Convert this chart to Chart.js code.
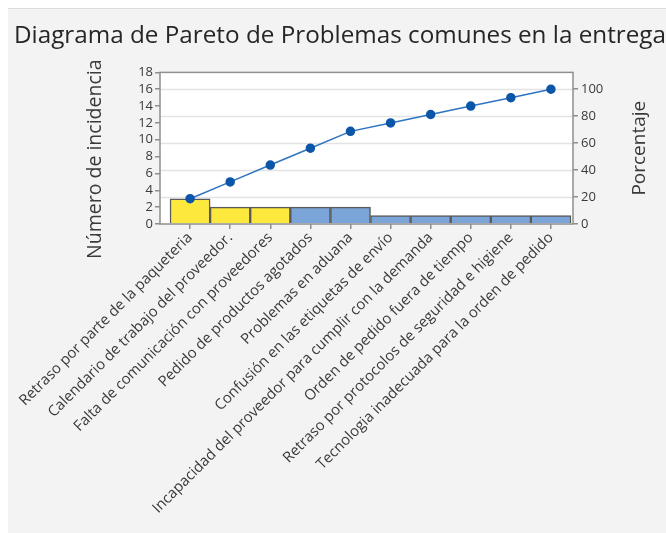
<!DOCTYPE html>
<html>
<head>
<meta charset="utf-8">
<script src="https://cdn.jsdelivr.net/npm/chart.js@4"></script>
<style>
  html, body { margin: 0; padding: 0; background: #ffffff; }
  #panel {
    position: absolute; left: 8px; top: 8px; width: 658px; height: 525px;
    background: #f3f3f3; border-top: 1px solid #dcdcdc; box-sizing: border-box;
  }
  #wrap { position: absolute; left: 0; top: 0; width: 658px; height: 524px; }
</style>
</head>
<body>
<div id="panel"><div id="wrap"><canvas id="c"></canvas></div></div>
<script>
// Problemas comunes en la entrega, ordenados por frecuencia
const categories = [
  "Retraso por parte de la paqueteria",
  "Calendario de trabajo del proveedor.",
  "Falta de comunicación con proveedores",
  "Pedido de productos agotados",
  "Problemas en aduana",
  "Confusión en las etiquetas de envío",
  "Incapacidad del proveedor para cumplir con la demanda",
  "Orden de pedido fuera de tiempo",
  "Retraso por protocolos de seguridad e higiene",
  "Tecnologia inadecuada para la orden de pedido"
];
const counts = [3, 2, 2, 2, 2, 1, 1, 1, 1, 1];
const cumulativePct = [18.75, 31.25, 43.75, 56.25, 68.75, 75, 81.25, 87.5, 93.75, 100];
const countTicks = [0, 2, 4, 6, 8, 10, 12, 14, 16, 18];
const pctTicks = [0, 20, 40, 60, 80, 100];
const barColors = ["#fde93e", "#fde93e", "#fde93e", "#7ba4d8", "#7ba4d8",
                   "#7ba4d8", "#7ba4d8", "#7ba4d8", "#7ba4d8", "#7ba4d8"];

const total = counts.reduce((a, b) => a + b, 0);
const countMax = 18;
const pctMax = countMax / total * 100;

const textColor = "#3a3a3a";
const fontFamily = "'Open Sans', 'Noto Sans', sans-serif";

// White plotting area, horizontal grid, frame and axis titles
const framePlugin = {
  id: "frame",
  beforeDraw(chart) {
    const { ctx, chartArea: a } = chart;
    ctx.save();
    ctx.fillStyle = "#ffffff";
    ctx.fillRect(a.left, a.top, a.right - a.left, a.bottom - a.top);
    const yr = chart.scales.yPct;
    ctx.strokeStyle = "#e3e3e3";
    ctx.lineWidth = 1.5;
    pctTicks.forEach(v => {
      if (v === 0) return;
      const y = Math.round(yr.getPixelForValue(v)) + 0.5;
      ctx.beginPath(); ctx.moveTo(a.left, y); ctx.lineTo(a.right, y); ctx.stroke();
    });
    ctx.restore();
  },
  afterDraw(chart) {
    const { ctx, chartArea: a } = chart;
    ctx.save();
    ctx.strokeStyle = "#8f8f8f";
    ctx.lineWidth = 1.5;
    ctx.strokeRect(a.left, a.top, a.right - a.left, a.bottom - a.top);

    // axis titles, both reading bottom to top
    ctx.fillStyle = "#3a3a3a";
    ctx.textAlign = "center";
    ctx.textBaseline = "middle";
    const midY = (a.top + a.bottom) / 2;
    ctx.font = "19.5px " + fontFamily;
    ctx.save();
    ctx.translate(87, midY + 11);
    ctx.rotate(-Math.PI / 2);
    ctx.fillText("Número de incidencia", 0, 0);
    ctx.restore();
    ctx.font = "19px " + fontFamily;
    ctx.save();
    ctx.translate(632, midY);
    ctx.rotate(-Math.PI / 2);
    ctx.fillText("Porcentaje", 0, 0);
    ctx.restore();
    ctx.restore();
  }
};

new Chart(document.getElementById("c"), {
  data: {
    datasets: [
      {
        type: "line",
        data: cumulativePct.map((v, i) => ({ x: i, y: v })),
        yAxisID: "yPct",
        borderColor: "#2f74c0",
        borderWidth: 1.5,
        pointBackgroundColor: "#0b56a8",
        pointBorderColor: "#0b56a8",
        pointRadius: 4,
        tension: 0,
        order: 0
      },
      {
        type: "bar",
        data: counts.map((v, i) => ({ x: i, y: v })),
        yAxisID: "yCount",
        backgroundColor: barColors,
        borderColor: "#5a5a5a",
        borderWidth: 1.5,
        barPercentage: 1,
        categoryPercentage: 1,
        order: 1
      }
    ]
  },
  options: {
    responsive: true,
    maintainAspectRatio: false,
    animation: false,
    layout: { padding: { left: 6, right: 0, top: 0, bottom: 0 } },
    plugins: {
      legend: { display: false },
      tooltip: { enabled: false },
      title: {
        display: true,
        text: "Diagrama de Pareto de Problemas comunes en la entrega",
        align: "start",
        color: "#262626",
        font: { family: fontFamily, size: 24.5, weight: "normal" },
        padding: { top: 12, bottom: 22 }
      }
    },
    scales: {
      x: {
        type: "linear",
        offset: false,
        min: -0.75,
        max: 9.55,
        afterBuildTicks(scale) {
          scale.ticks = categories.map((_, i) => ({ value: i }));
        },
        afterFit(scale) { scale.height = 309; },
        grid: { display: true, offset: false, drawOnChartArea: false, drawTicks: true, tickLength: 5, color: "#8f8f8f", lineWidth: 1.5 },
        border: { display: false },
        ticks: {
          autoSkip: false,
          minRotation: 45,
          maxRotation: 45,
          padding: 0,
          color: textColor,
          font: { family: fontFamily, size: 14.8 },
          callback: v => categories[v]
        }
      },
      yCount: {
        type: "linear",
        position: "left",
        min: 0,
        max: countMax,
        afterBuildTicks(scale) {
          scale.ticks = countTicks.map(v => ({ value: v }));
        },
        afterFit(scale) { scale.width = 146; },
        grid: { drawOnChartArea: false, drawTicks: true, tickLength: 5, color: "#8f8f8f", lineWidth: 1.5 },
        border: { display: false },
        ticks: { autoSkip: false, color: textColor, padding: 2, font: { family: fontFamily, size: 13 } }
      },
      yPct: {
        type: "linear",
        position: "right",
        min: 0,
        max: pctMax,
        afterBuildTicks(scale) {
          scale.ticks = pctTicks.map(v => ({ value: v }));
        },
        afterFit(scale) { scale.width = 93; },
        grid: { drawOnChartArea: false, drawTicks: true, tickLength: 5, color: "#8f8f8f", lineWidth: 1.5 },
        border: { display: false },
        ticks: { autoSkip: false, color: textColor, padding: 3, font: { family: fontFamily, size: 13 } }
      }
    }
  },
  plugins: [framePlugin]
});
</script>
</body>
</html>
